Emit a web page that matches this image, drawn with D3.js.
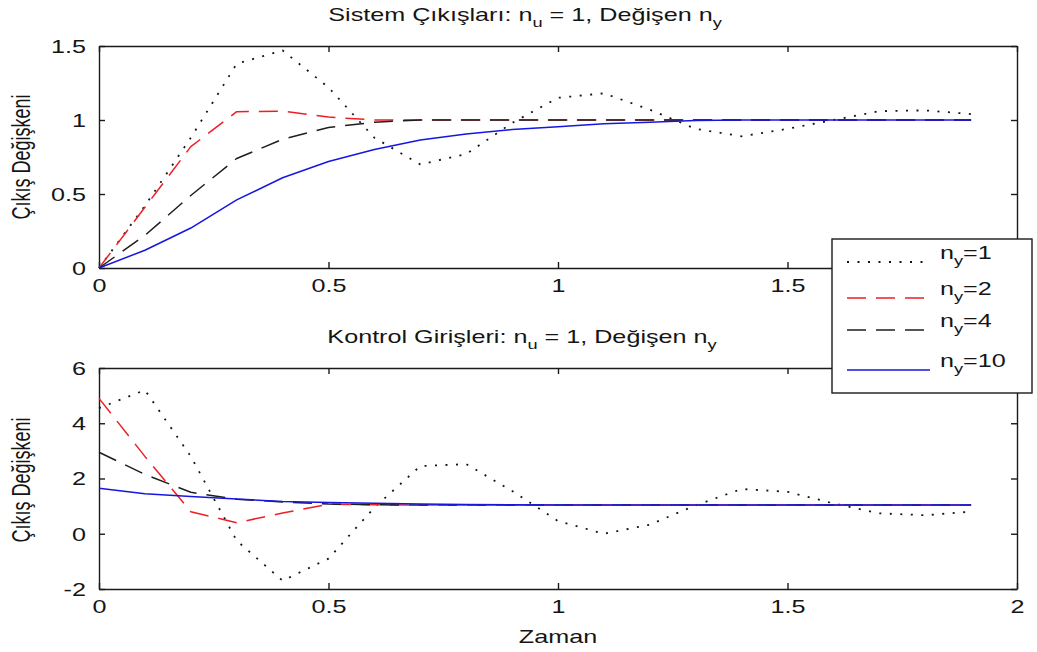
<!DOCTYPE html>
<html>
<head>
<meta charset="utf-8">
<script src="https://cdn.jsdelivr.net/npm/d3@7"></script>
<style>
  body { margin: 0; background: #fff; }
  svg { display: block; }
  text { font-family: "Liberation Sans", Arial, Helvetica, sans-serif; fill: #151515; }
</style>
</head>
<body>
<svg id="chart" width="1037" height="652"></svg>
<script>
// Sample instants (s)
const time = [0, 0.1, 0.2, 0.3, 0.4, 0.5, 0.6, 0.7, 0.8, 0.9, 1.0, 1.1, 1.2, 1.3, 1.4, 1.5, 1.6, 1.7, 1.8, 1.9];

// Prediction horizon values compared
const nyValues = [1, 2, 4, 10];

// System outputs for each n_y (n_u = 1)
const outputNy1  = [0, 0.42, 0.88, 1.38, 1.47, 1.22, 0.88, 0.70, 0.77, 0.98, 1.15, 1.18, 1.07, 0.94, 0.89, 0.94, 1.00, 1.06, 1.065, 1.04];
const outputNy2  = [0, 0.41, 0.82, 1.056, 1.06, 1.02, 1.0, 1.0, 1.0, 1.0, 1.0, 1.0, 1.0, 1.0, 1.0, 1.0, 1.0, 1.0, 1.0, 1.0];
const outputNy4  = [0, 0.22, 0.49, 0.74, 0.87, 0.95, 0.985, 1.0, 1.0, 1.0, 1.0, 1.0, 1.0, 1.0, 1.0, 1.0, 1.0, 1.0, 1.0, 1.0];
const outputNy10 = [0, 0.12, 0.27, 0.46, 0.61, 0.72, 0.80, 0.865, 0.905, 0.935, 0.955, 0.975, 0.985, 0.997, 1.0, 1.0, 1.0, 1.0, 1.0, 1.0];

// Control inputs for each n_y (n_u = 1)
const inputNy1  = [4.55, 5.2, 2.8, -0.25, -1.7, -0.9, 0.95, 2.45, 2.52, 1.55, 0.46, 0.0, 0.33, 1.03, 1.62, 1.52, 1.1, 0.74, 0.67, 0.8];
const inputNy2  = [4.9, 2.8, 0.8, 0.4, 0.75, 1.07, 1.05, 1.04, 1.04, 1.04, 1.04, 1.04, 1.04, 1.04, 1.04, 1.04, 1.04, 1.04, 1.04, 1.04];
const inputNy4  = [2.95, 2.15, 1.5, 1.25, 1.15, 1.08, 1.05, 1.04, 1.04, 1.04, 1.04, 1.04, 1.04, 1.04, 1.04, 1.04, 1.04, 1.04, 1.04, 1.04];
const inputNy10 = [1.65, 1.45, 1.35, 1.26, 1.17, 1.13, 1.1, 1.08, 1.06, 1.05, 1.04, 1.04, 1.04, 1.04, 1.04, 1.04, 1.04, 1.04, 1.04, 1.04];

// Axis ticks
const xTicks = [0, 0.5, 1, 1.5, 2];
const outputYTicks = [0, 0.5, 1, 1.5];
const inputYTicks = [-2, 0, 2, 4, 6];

// ---------------------------------------------------------------------------
const svg = d3.select("#chart");
const TEXT_SX = 1.4;      // horizontal stretch applied to all lettering
const FONT = 18;
const SUB_FONT = 13;

const lineStyles = [
  { stroke: "#151515", width: 1.8, dash: "2,8.5" },
  { stroke: "#ee1f24", width: 1.5, dash: "19,10" },
  { stroke: "#1e1e1e", width: 1.5, dash: "19,10" },
  { stroke: "#1616e2", width: 1.5, dash: null }
];

const x = d3.scaleLinear().domain([0, 2]).range([99, 1017]);

const panels = [
  {
    prefix: "Sistem Çıkışları: n", suffix: " = 1, Değişen n",
    titleX: 525, titleY: 21,
    yDomain: [0, 1.5], yRange: [268, 46], yTicks: outputYTicks,
    ylabel: "Çıkış Değişkeni", ylabelY: 157,
    series: [outputNy1, outputNy2, outputNy4, outputNy10]
  },
  {
    prefix: "Kontrol Girişleri: n", suffix: " = 1, Değişen n",
    titleX: 522, titleY: 343,
    yDomain: [-2, 6], yRange: [589, 368], yTicks: inputYTicks,
    ylabel: "Çıkış Değişkeni", ylabelY: 480,
    series: [inputNy1, inputNy2, inputNy4, inputNy10]
  }
];

// stretch text horizontally around its anchor point
function placeText(sel, tx, ty, rot) {
  sel.attr("x", 0).attr("y", 0)
     .attr("transform", `translate(${tx},${ty}) scale(${TEXT_SX},1)` + (rot ? ` rotate(${rot})` : ""));
}

// text "base" + subscript + "rest" + optional subscript
function subText(g, parts, size) {
  const t = g.append("text").attr("font-size", size);
  let shifted = false;
  parts.forEach(p => {
    const ts = t.append("tspan").text(p.s);
    if (p.sub) {
      ts.attr("font-size", SUB_FONT).attr("dy", 6);
      shifted = true;
    } else if (shifted) {
      ts.attr("dy", -6);
      shifted = false;
    }
  });
  return t;
}

panels.forEach(p => {
  const y = d3.scaleLinear().domain(p.yDomain).range(p.yRange);
  const g = svg.append("g");
  const [x0, x1] = x.range();
  const [yb, yt] = p.yRange;

  // axes: labelled bottom/left, bare top/right, all ticks pointing inwards
  const fmt = d => String(d);
  const axB = g.append("g").attr("transform", `translate(0,${yb})`)
    .call(d3.axisBottom(x).tickValues(xTicks).tickFormat(fmt).tickSizeInner(-6).tickSizeOuter(0).tickPadding(11));
  const axL = g.append("g").attr("transform", `translate(${x0},0)`)
    .call(d3.axisLeft(y).tickValues(p.yTicks).tickFormat(fmt).tickSizeInner(-6).tickSizeOuter(0).tickPadding(13));
  g.append("g").attr("transform", `translate(0,${yt})`)
    .call(d3.axisTop(x).tickValues(xTicks).tickFormat("").tickSizeInner(-6).tickSizeOuter(0));
  g.append("g").attr("transform", `translate(${x1},0)`)
    .call(d3.axisRight(y).tickValues(p.yTicks).tickFormat("").tickSizeInner(-6).tickSizeOuter(0));

  g.selectAll(".domain").attr("stroke", "#1a1a1a").attr("stroke-width", 1.4);
  g.selectAll(".tick line").attr("stroke", "#1a1a1a").attr("stroke-width", 1.4);
  g.selectAll(".tick text").attr("font-size", FONT).attr("font-family", null).attr("fill", "#151515");

  axB.selectAll(".tick text").each(function () {
    const s = d3.select(this);
    const ty = +s.attr("y");
    s.attr("dy", "0.71em");
    placeText(s, 0, ty);
  });
  axL.selectAll(".tick text").each(function () {
    const s = d3.select(this);
    const tx = +s.attr("x");
    s.attr("dy", "0.35em");
    placeText(s, tx, 0);
  });

  // curves
  const line = d3.line().x((d, i) => x(time[i])).y(d => y(d));
  p.series.forEach((vals, k) => {
    const st = lineStyles[k];
    g.append("path")
      .datum(vals)
      .attr("d", line)
      .attr("fill", "none")
      .attr("stroke", st.stroke)
      .attr("stroke-width", st.width)
      .attr("stroke-dasharray", st.dash)
      .attr("stroke-linejoin", "round");
  });

  // title
  const tg = svg.append("g");
  const title = subText(tg, [{ s: p.prefix }, { s: "u", sub: true }, { s: p.suffix }, { s: "y", sub: true }], FONT)
    .attr("text-anchor", "middle");
  placeText(title, p.titleX, p.titleY);

  // y label
  const yl = svg.append("text").attr("font-size", FONT).attr("text-anchor", "middle").text(p.ylabel);
  placeText(yl, 30, p.ylabelY, -90);
});

// x label
const xl = svg.append("text").attr("font-size", FONT).attr("text-anchor", "middle").text("Zaman");
placeText(xl, 558, 643);

// legend
const lg = svg.append("g");
lg.append("rect").attr("x", 832).attr("y", 239).attr("width", 200).attr("height", 154)
  .attr("fill", "#fff").attr("stroke", "#1a1a1a").attr("stroke-width", 1.4);
const rowY = [262, 298, 330, 370];
nyValues.forEach((n, k) => {
  const st = lineStyles[k];
  lg.append("line")
    .attr("x1", 847).attr("x2", 930).attr("y1", rowY[k]).attr("y2", rowY[k])
    .attr("stroke", st.stroke).attr("stroke-width", st.width)
    .attr("stroke-dasharray", st.dash);
  const t = subText(lg, [{ s: "n" }, { s: "y", sub: true }, { s: "=" + n }], FONT);
  placeText(t, 940, rowY[k] - 3);
});
</script>
</body>
</html>
